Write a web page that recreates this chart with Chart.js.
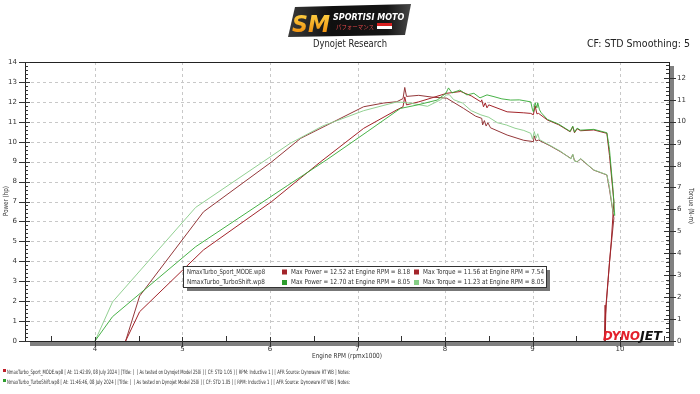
<!DOCTYPE html>
<html>
<head>
<meta charset="utf-8">
<script src="https://cdn.jsdelivr.net/npm/chart.js@4/dist/chart.umd.min.js"></script>
<style>
html,body{margin:0;padding:0;background:#fff;}
canvas{display:block;}
</style>
</head>
<body>
<canvas id="c" width="700" height="394"></canvas>
<script>
// ---------- data ----------
const runNames = ['NmaxTurbo_Sport_MODE.wp8', 'NmaxTurbo_TurboShift.wp8'];
const maxPowerText = ['Max Power = 12.52 at Engine RPM = 8.18', 'Max Power = 12.70 at Engine RPM = 8.05'];
const maxTorqueText = ['Max Torque = 11.56 at Engine RPM = 7.54', 'Max Torque = 11.23 at Engine RPM = 8.05'];
const footerText = [
  'NmaxTurbo_Sport_MODE.wp8 [ At: 11:42:09, 08 July 2024 ] [Title: ]  [ As tested on Dynojet Model 250i ] [ CF: STD 1.05 ] [ RPM: Inductive 1 ] [ AFR Source: Dynoware RT WB ] Notes:',
  'NmaxTurbo_TurboShift.wp8 [ At: 11:46:46, 08 July 2024 ] [Title: ]  [ As tested on Dynojet Model 250i ] [ CF: STD 1.05 ] [ RPM: Inductive 1 ] [ AFR Source: Dynoware RT WB ] Notes:'
];
const xTicks = [4, 5, 6, 7, 8, 9, 10];
const powerTicks = [0,1,2,3,4,5,6,7,8,9,10,11,12,13,14];
const torqueTicks = [0,1,2,3,4,5,6,7,8,9,10,11,12];

const sportPowerRpm = [4.35,4.51,5.24,6.02,6.58,7.07,7.45,7.52,7.54,7.56,7.70,7.85,8.02,8.18,8.30,8.41,8.42,8.44,8.46,8.48,8.50,8.71,8.90,8.98,9.01,9.03,9.05,9.07,9.17,9.30,9.43,9.46,9.48,9.51,9.55,9.70,9.85,9.88,9.93,9.90,9.84,9.83];
const sportPowerHp  = [0,1.47,4.57,7.0,9.0,10.67,11.6,11.75,12.25,11.85,12.0,12.2,12.43,12.52,12.3,12.0,12.1,11.75,11.95,11.7,11.85,11.5,11.45,11.42,11.35,11.8,11.4,11.42,11.09,10.85,10.5,10.75,10.45,10.65,10.55,10.59,10.42,9.3,7.0,5.0,1.8,0];

const sportTorqueRpm = [4.35,4.51,5.24,6.02,6.35,7.07,7.30,7.45,7.52,7.54,7.56,7.70,7.85,8.02,8.21,8.35,8.42,8.43,8.45,8.47,8.49,8.52,8.71,8.90,9.01,9.02,9.04,9.07,9.20,9.32,9.44,9.46,9.48,9.51,9.55,9.70,9.85,9.88,9.93,9.88,9.83,9.82];
const sportTorqueNm  = [0,2.05,5.89,8.17,9.24,10.68,10.85,10.91,11.05,11.56,11.15,11.2,11.12,11.07,10.61,10.25,10.15,9.85,10.05,9.8,9.95,9.72,9.39,9.15,9.09,9.35,9.12,9.16,8.9,8.63,8.32,8.5,8.22,8.17,8.3,7.79,7.57,6.9,5.6,3.6,1.0,0];

const turboPowerRpm = [4.0,4.2,5.15,6.2,6.65,7.11,7.49,7.68,7.91,8.01,8.04,8.08,8.17,8.25,8.33,8.40,8.48,8.56,8.65,8.75,8.85,8.98,9.00,9.01,9.03,9.05,9.06,9.08,9.10,9.17,9.30,9.43,9.46,9.48,9.51,9.55,9.70,9.85,9.88,9.92,9.94];
const turboPowerHp  = [0,1.22,4.73,7.8,9.1,10.5,11.67,11.84,12.09,12.43,12.70,12.45,12.59,12.35,12.43,12.2,12.35,12.26,12.15,12.09,12.1,12.0,11.6,11.5,11.95,11.7,11.95,11.6,11.45,11.12,10.88,10.52,10.78,10.48,10.68,10.58,10.62,10.45,9.6,7.6,6.3];

const turboTorqueRpm = [4.0,4.2,5.15,6.23,6.6,7.07,7.45,7.6,7.8,7.95,8.02,8.05,8.1,8.2,8.3,8.41,8.5,8.6,8.7,8.8,8.9,8.98,9.00,9.02,9.04,9.06,9.08,9.2,9.32,9.44,9.46,9.48,9.51,9.55,9.7,9.85,9.88,9.92,9.94];
const turboTorqueNm  = [0,1.78,6.09,9.01,9.8,10.5,10.9,10.85,10.7,11.0,11.22,11.23,11.0,10.85,10.5,10.31,10.2,9.95,9.85,9.7,9.6,9.47,9.2,9.55,9.25,9.45,9.18,8.92,8.65,8.3,8.52,8.2,8.18,8.32,7.8,7.58,7.0,5.9,5.7];

// ---------- styling ----------
const COL_SPORT_P = '#a3242a';
const COL_SPORT_T = '#94383a';
const COL_TURBO_P = 'rgba(52,170,52,0.9)';
const COL_TURBO_T = 'rgba(140,205,140,0.95)';
const FONT = '"DejaVu Sans", "Liberation Sans", sans-serif';

function pts(xs, ys){ return xs.map((x,i)=>({x:x, y:ys[i]})); }

const decor = {
  id: 'decor',
  beforeDraw(chart){
    const ctx = chart.ctx;
    ctx.save();
    ctx.fillStyle = '#fff';
    ctx.fillRect(0,0,chart.width,chart.height);
    ctx.restore();
  },
  beforeDatasetsDraw(chart){
    const ctx = chart.ctx, a = chart.chartArea;
    const sx = chart.scales.x, sy = chart.scales.y;
    ctx.save();
    ctx.strokeStyle = '#c8c8c8';
    ctx.lineWidth = 1;
    ctx.setLineDash([3,3]);
    powerTicks.forEach(v=>{
      if (v<=0 || v>=14) return;
      const y = Math.round(sy.getPixelForValue(v))+0.5;
      ctx.beginPath(); ctx.moveTo(a.left, y); ctx.lineTo(a.right, y); ctx.stroke();
    });
    xTicks.forEach(v=>{
      const x = Math.round(sx.getPixelForValue(v))+0.5;
      ctx.beginPath(); ctx.moveTo(x, a.top); ctx.lineTo(x, a.bottom); ctx.stroke();
    });
    ctx.restore();
  },
  afterDatasetsDraw(chart){
    const ctx = chart.ctx, a = chart.chartArea;
    const sx = chart.scales.x, sy = chart.scales.y, sy1 = chart.scales.y1;
    ctx.save();
    // shadows
    ctx.fillStyle = '#808080';
    ctx.fillRect(a.left+5, a.bottom+1, a.right-a.left, 4);
    ctx.fillRect(a.right+1, a.top+4, 4, a.bottom-a.top+1);
    // frame
    ctx.strokeStyle = '#222';
    ctx.lineWidth = 1;
    ctx.setLineDash([]);
    ctx.strokeRect(Math.round(a.left)+0.5, Math.round(a.top)+0.5, Math.round(a.right-a.left), Math.round(a.bottom-a.top));
    // left ticks
    ctx.strokeStyle = '#333';
    ctx.beginPath();
    for (let i=0;i<=70;i++){
      const v = i*0.2;
      const y = Math.round(sy.getPixelForValue(v))+0.5;
      const major = (i%5===0);
      ctx.moveTo(major? a.left-6 : a.left, y);
      ctx.lineTo(a.left+ (major?5:3), y);
    }
    // right ticks
    for (let i=0;i<=63;i++){
      const v = i*0.2;
      if (v > sy1.max) break;
      const y = Math.round(sy1.getPixelForValue(v))+0.5;
      const major = (i%5===0);
      ctx.moveTo(a.right-(major?5:3), y);
      ctx.lineTo(major? a.right+7 : a.right, y);
    }
    // x ticks
    for (let v=3.5; v<=10.5; v+=0.5){
      const x = Math.round(sx.getPixelForValue(v))+0.5;
      const major = Math.abs(v-Math.round(v))<1e-6;
      if (major){ ctx.moveTo(x, a.bottom-4); ctx.lineTo(x, a.bottom+6); }
      else { ctx.moveTo(x, a.bottom-5); ctx.lineTo(x, a.bottom); }
    }
    ctx.stroke();

    // DYNOJET logo
    ctx.font = 'italic bold 13px ' + FONT;
    ctx.textBaseline = 'alphabetic';
    ctx.fillStyle = '#e3202b';
    ctx.fillText('DYNO', 603, 340, 37);
    ctx.fillStyle = '#111';
    ctx.fillText('JET', 640, 340, 22);

    // legend box
    ctx.fillStyle = '#777';
    ctx.fillRect(187, 270, 363, 21);
    ctx.fillStyle = '#fff';
    ctx.fillRect(183.5, 266.5, 363, 21);
    ctx.strokeStyle = '#333';
    ctx.strokeRect(183.5, 266.5, 363, 21);
    ctx.font = '7px ' + FONT;
    ctx.textBaseline = 'middle';
    const rowsY = [272, 282.5];
    const sq = [[COL_SPORT_P, '#a3242a'], ['#2e9e2e', '#86cf86']];
    for (let r=0;r<2;r++){
      ctx.fillStyle = '#333';
      ctx.fillText(runNames[r], 187, rowsY[r], 78);
      ctx.fillStyle = sq[r][0];
      ctx.fillRect(282, rowsY[r]-2.5, 5, 5);
      ctx.fillStyle = '#333';
      ctx.fillText(maxPowerText[r], 291, rowsY[r], 119);
      ctx.fillStyle = sq[r][1];
      ctx.fillRect(414, rowsY[r]-2.5, 5, 5);
      ctx.fillStyle = '#333';
      ctx.fillText(maxTorqueText[r], 423, rowsY[r], 121);
    }
    ctx.restore();
  },
  afterDraw(chart){
    const ctx = chart.ctx;
    ctx.save();
    // logo
    const g = ctx.createLinearGradient(288,0,412,0);
    g.addColorStop(0,'#3a3a3a'); g.addColorStop(0.35,'#101010'); g.addColorStop(0.8,'#151515'); g.addColorStop(1,'#4a4a4a');
    ctx.fillStyle = g;
    ctx.beginPath(); ctx.moveTo(295,7); ctx.lineTo(411,4); ctx.lineTo(405,35); ctx.lineTo(288,37); ctx.closePath(); ctx.fill();
    const og = ctx.createLinearGradient(0,11,0,33);
    og.addColorStop(0,'#ffd84a'); og.addColorStop(1,'#f0900e');
    ctx.fillStyle = og;
    ctx.textBaseline = 'alphabetic';
    ctx.font = 'italic bold 23px ' + FONT;
    ctx.fillText('SM', 292, 32, 38);
    ctx.fillStyle = '#ffffff';
    ctx.font = 'italic bold 8px ' + FONT;
    ctx.fillText('SPORTISI MOTO', 333, 20, 74);
    ctx.fillStyle = '#e8484a';
    ctx.font = '6px "Noto Sans CJK JP"';
    ctx.fillText('パフォーマンス', 336, 29, 38);
    ctx.fillStyle = '#d82020'; ctx.fillRect(377,23,15,3);
    ctx.fillStyle = '#ffffff'; ctx.fillRect(377,26,15,3);

    // header texts
    ctx.fillStyle = '#222';
    ctx.font = '10px ' + FONT;
    ctx.textBaseline = 'middle';
    ctx.textAlign = 'center';
    ctx.fillText('Dynojet Research', 350, 44, 74);
    ctx.textAlign = 'right';
    ctx.fillText('CF: STD Smoothing: 5', 690, 44, 103);

    // axis titles
    ctx.font = '7px ' + FONT;
    ctx.textAlign = 'center';
    ctx.fillStyle = '#333';
    ctx.fillText('Engine RPM (rpmx1000)', 347, 356, 70);
    ctx.save();
    ctx.translate(6, 201); ctx.rotate(-Math.PI/2);
    ctx.fillText('Power (hp)', 0, 0, 30);
    ctx.restore();
    ctx.save();
    ctx.translate(691, 206); ctx.rotate(Math.PI/2);
    ctx.fillText('Torque (N-m)', 0, 0, 36);
    ctx.restore();

    // footer
    ctx.textAlign = 'left';
    ctx.font = '6px ' + FONT;
    const fy = [372, 382];
    const fc = ['#c0202a', '#2e9e2e'];
    for (let i=0;i<2;i++){
      ctx.fillStyle = fc[i];
      ctx.fillRect(3, fy[i]-3, 3, 3);
      ctx.fillStyle = '#333';
      ctx.fillText(footerText[i], 7, fy[i], 343);
    }
    ctx.restore();
  }
};

const tickFont = { family: FONT, size: 7 };
const noGrid = { display: false, drawTicks: false, tickLength: 0 };

new Chart(document.getElementById('c'), {
  type: 'line',
  data: {
    datasets: [
      { label:'TurboShift Power', data: pts(turboPowerRpm, turboPowerHp), borderColor: COL_TURBO_P, yAxisID:'y' },
      { label:'TurboShift Torque', data: pts(turboTorqueRpm, turboTorqueNm), borderColor: COL_TURBO_T, yAxisID:'y1' },
      { label:'Sport Power', data: pts(sportPowerRpm, sportPowerHp), borderColor: COL_SPORT_P, yAxisID:'y' },
      { label:'Sport Torque', data: pts(sportTorqueRpm, sportTorqueNm), borderColor: COL_SPORT_T, yAxisID:'y1' }
    ]
  },
  options: {
    responsive: false,
    animation: false,
    elements: {
      line: { borderWidth: 1, tension: 0, fill: false },
      point: { radius: 0, hoverRadius: 0 }
    },
    layout: { padding: { left: 0, right: 0, top: 62, bottom: 0 } },
    plugins: { legend: { display: false }, tooltip: { enabled: false } },
    scales: {
      x: {
        type: 'linear', min: 3.2, max: 10.56,
        grid: noGrid, border: { display: false },
        afterBuildTicks: s => { s.ticks = xTicks.map(v => ({ value: v })); },
        afterFit: s => { s.height = 53; },
        ticks: { font: tickFont, color: '#333', padding: 4, maxRotation: 0, autoSkip: false }
      },
      y: {
        position: 'left', min: 0, max: 14,
        grid: noGrid, border: { display: false },
        afterBuildTicks: s => { s.ticks = powerTicks.map(v => ({ value: v })); },
        afterFit: s => { s.width = 25; },
        ticks: { font: tickFont, color: '#333', padding: 8 }
      },
      y1: {
        position: 'right', min: 0, max: 12.72,
        grid: noGrid, border: { display: false },
        afterBuildTicks: s => { s.ticks = torqueTicks.map(v => ({ value: v })); },
        afterFit: s => { s.width = 31; },
        ticks: { font: tickFont, color: '#333', padding: 8 }
      }
    }
  },
  plugins: [decor]
});
</script>
</body>
</html>
